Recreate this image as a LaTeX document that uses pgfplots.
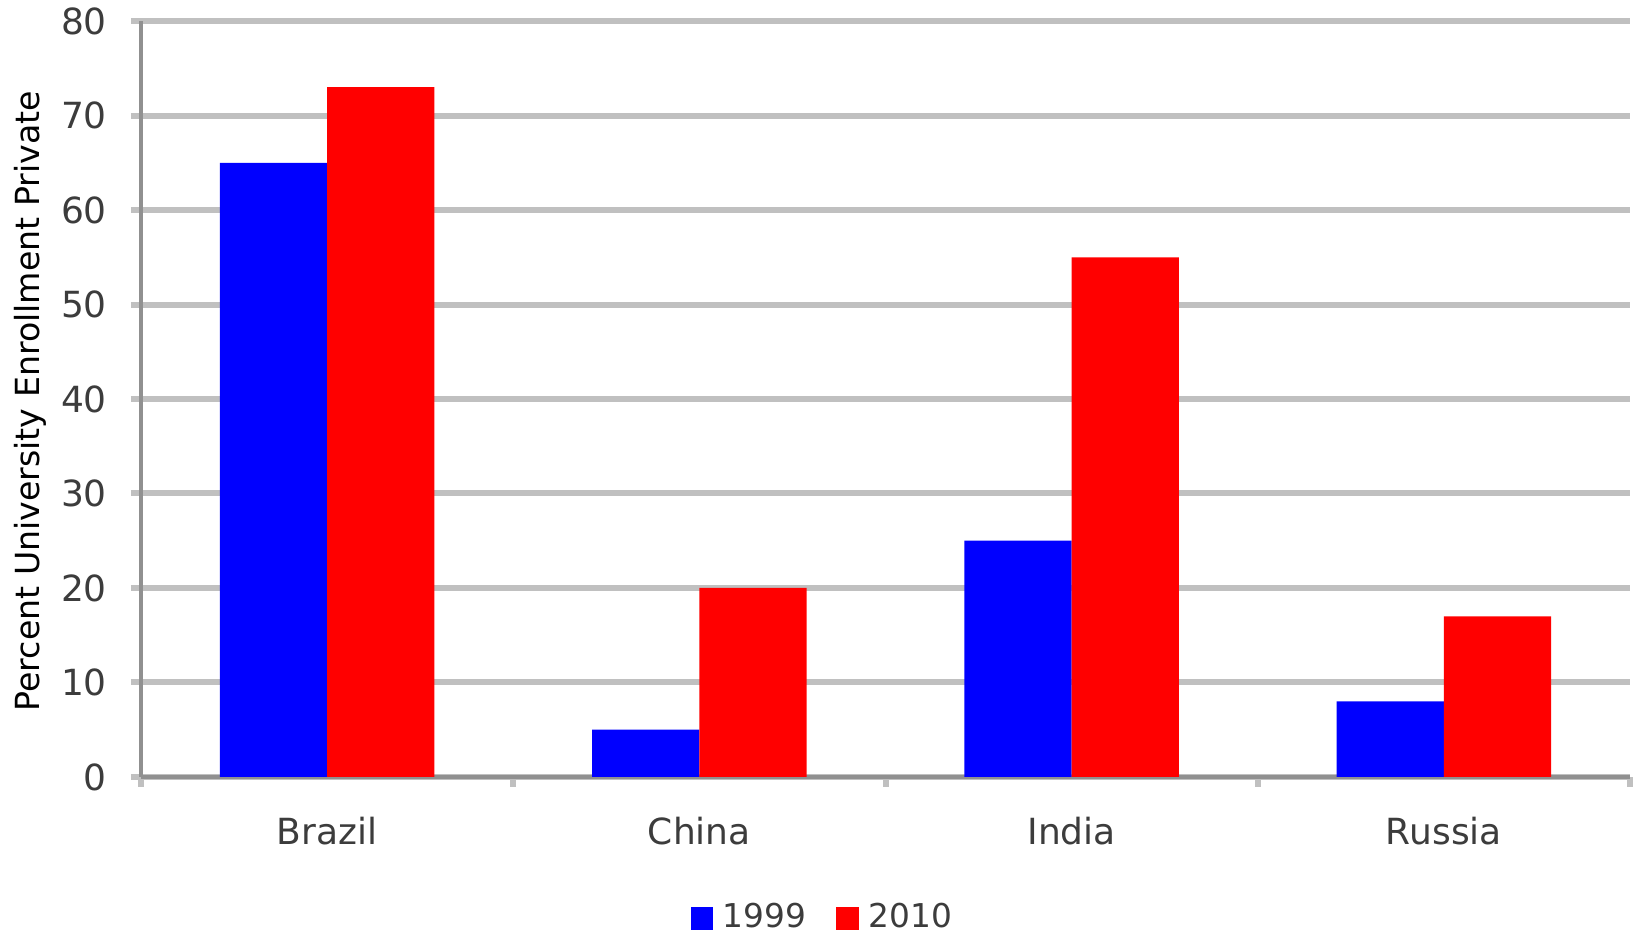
\documentclass[border=0pt]{standalone}
\usepackage{pgfplots}
\pgfplotsset{compat=1.18}
\usepackage{fontspec}
\setmainfont{DejaVu Sans}
\definecolor{gridgray}{RGB}{192,192,192}
\definecolor{axisgray}{RGB}{144,144,144}
\definecolor{tickgray}{RGB}{60,60,60}
\definecolor{barblue}{RGB}{0,0,255}
\definecolor{barred}{RGB}{255,0,0}
\begin{document}
\begin{tikzpicture}
\begin{axis}[name=ax, scale only axis, width=372.25pt, height=189pt,
  ybar=0pt, bar width=26.8pt,
  xmin=-0.5, xmax=3.5, ymin=0, ymax=80, ytick={0,10,...,80},
  xtick={0,1,2,3}, xticklabels={Brazil,China,India,Russia},
  minor xtick={-0.5,0.5,1.5,2.5,3.5},
  axis x line*=bottom, axis y line*=left,
  axis line style={axisgray, line width=0.8pt},
  ymajorgrids, major grid style={gridgray, line width=1.5pt},
  major x tick style={draw=none},
  minor x tick style={gridgray, line width=1.5pt}, minor tick length=2.5pt,
  major y tick style={gridgray, line width=1.5pt}, major tick length=2.5pt,
  tick align=outside,
  /pgf/number format/assume math mode=true,
  yticklabel style={font=\fontsize{9}{10}\selectfont, text=tickgray, xshift=-2.5pt},
  xticklabel style={font=\fontsize{9}{10}\selectfont, text=tickgray, yshift=-4pt},
  ylabel={Percent University Enrollment Private},
  ylabel style={at={(axis description cs:-0.074,0.497)}, anchor=center, font=\fontsize{8.3}{10}\selectfont},
  legend style={at={(0.459,-0.187)}, anchor=center, draw=none, legend columns=2,
    font=\fontsize{8.2}{10}\selectfont, text=tickgray,
    /tikz/every odd column/.append style={column sep=1pt},
    /tikz/every even column/.append style={column sep=6pt},
    /tikz/every node/.append style={inner sep=1.5pt}},
  legend image code/.code={\fill[#1] (0pt,-2.8pt) rectangle (5.6pt,2.8pt);},
]
\addplot[fill=barblue, draw=none] coordinates {(0,65) (1,5) (2,25) (3,8)};
\addplot[fill=barred, draw=none] coordinates {(0,73) (1,20) (2,55) (3,17)};
\legend{1999,2010}
\end{axis}
\pgfresetboundingbox
\path (ax.south west) ++(-35.25pt,-40pt) rectangle ++(409pt,234.25pt);
\end{tikzpicture}
\end{document}
